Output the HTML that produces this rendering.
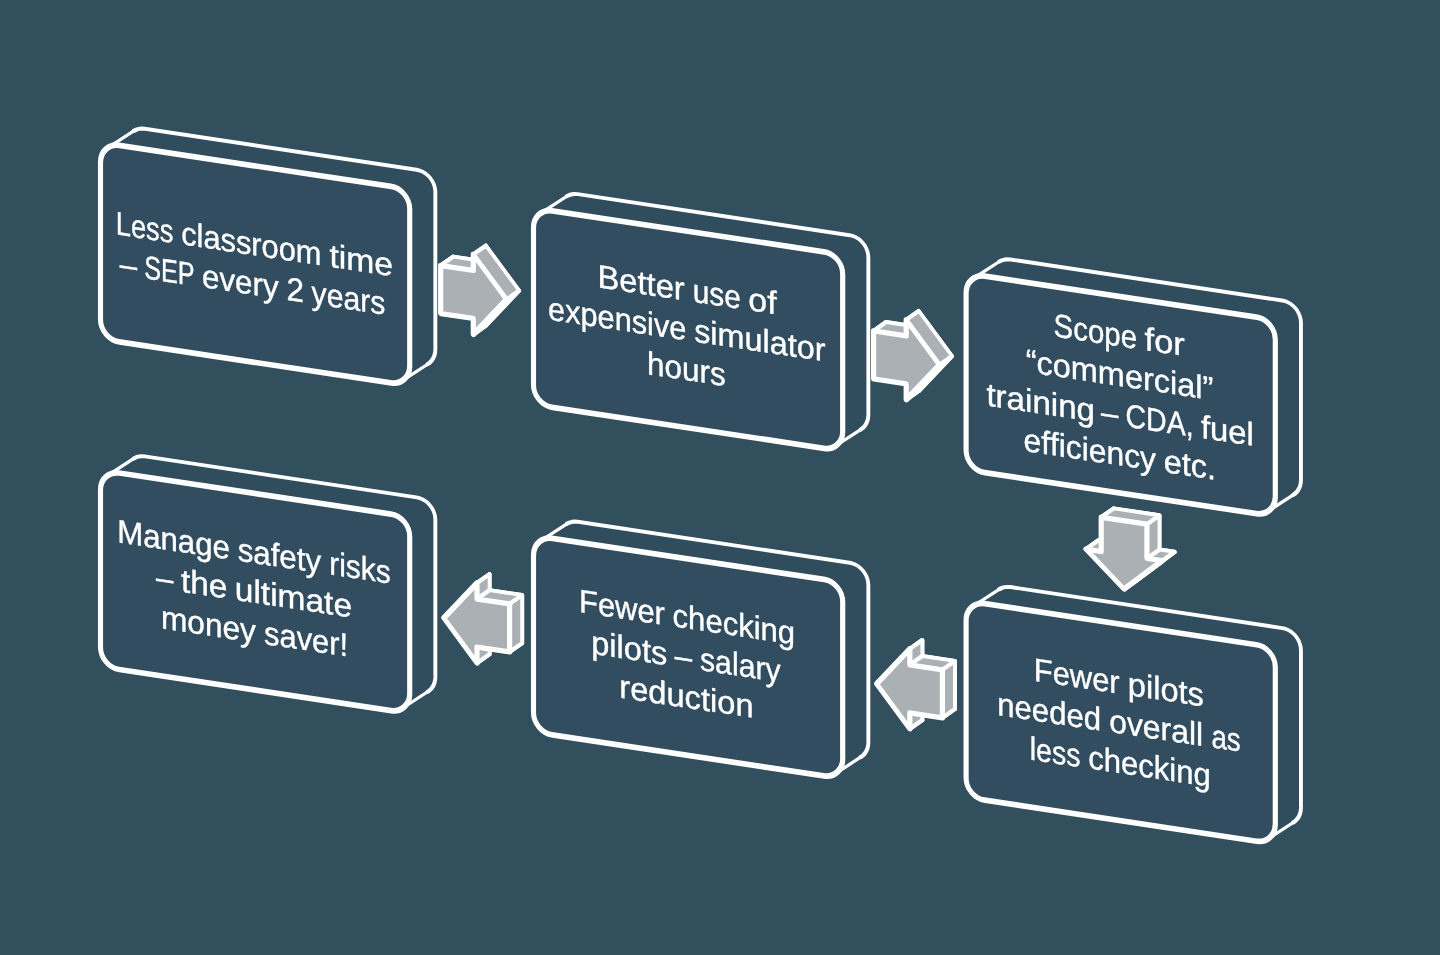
<!DOCTYPE html>
<html><head><meta charset="utf-8"><title>Diagram</title>
<style>
html,body{margin:0;padding:0;background:#324F5D;}
body{width:1440px;height:955px;overflow:hidden;}
svg{display:block;will-change:transform;}
text{font-family:"Liberation Sans",sans-serif;font-size:32.7px;fill:#fff;stroke:#fff;stroke-width:0.4px;stroke-linejoin:round;font-kerning:none;font-variant-ligatures:none;white-space:pre;}
</style></head><body>
<svg width="1440" height="955" viewBox="0 0 1440 955">
<rect width="1440" height="955" fill="#324F5D"/>
<g transform="matrix(1,0.151,0,1,0,0)">
<polygon points="100.50,147.00 100.73,143.93 101.42,140.94 102.54,138.10 104.07,135.48 105.98,133.14 108.21,131.14 133.86,110.62 136.36,109.01 139.07,107.84 141.92,107.12 144.85,106.88 416.65,106.88 419.58,107.12 422.43,107.84 425.14,109.01 427.64,110.62 429.87,112.62 431.78,114.96 433.31,117.58 434.43,120.42 435.12,123.41 435.35,126.48 435.35,283.78 435.12,286.84 434.43,289.83 433.31,292.68 431.78,295.30 429.87,297.64 427.64,299.63 401.99,320.16 399.49,321.76 396.78,322.94 393.93,323.66 391.00,323.90 119.20,323.90 116.27,323.66 113.42,322.94 110.71,321.76 108.21,320.16 105.98,318.16 104.07,315.82 102.54,313.20 101.42,310.36 100.73,307.37 100.50,304.30" fill="#304D5E"/>
<polyline points="133.86,110.62 136.36,109.01 139.07,107.84 141.92,107.12 144.85,106.88 416.65,106.88 419.58,107.12 422.43,107.84 425.14,109.01 427.64,110.62 429.87,112.62 431.78,114.96 433.31,117.58 434.43,120.42 435.12,123.41 435.35,126.48 435.35,283.78 435.12,286.84 434.43,289.83 433.31,292.68 431.78,295.30 429.87,297.64 427.64,299.63" fill="none" stroke="#FFFFFF" stroke-width="3.90" stroke-linejoin="round" stroke-linecap="round"/>
<line x1="108.21" y1="131.14" x2="133.86" y2="110.62" stroke="#FFFFFF" stroke-width="3.00" stroke-linecap="round"/>
<line x1="427.64" y1="299.63" x2="401.99" y2="320.16" stroke="#FFFFFF" stroke-width="3.00" stroke-linecap="round"/>
<rect transform="scale(0.905,1)" x="111.05" y="127.40" width="341.66" height="196.50" rx="20.66" ry="19.60" fill="#314D5F" stroke="#FFFFFF" stroke-width="5.70"/>
<text y="216.90"><tspan x="115.70" textLength="57.74" lengthAdjust="spacingAndGlyphs">Less</tspan> <tspan x="181.15" textLength="140.31" lengthAdjust="spacingAndGlyphs">classroom</tspan> <tspan x="329.38" textLength="63.65" lengthAdjust="spacingAndGlyphs">time</tspan></text>
<text y="256.60"><tspan x="119.64" textLength="17.33" lengthAdjust="spacingAndGlyphs">–</tspan> <tspan x="144.27" textLength="50.41" lengthAdjust="spacingAndGlyphs">SEP</tspan> <tspan x="202.04" textLength="76.55" lengthAdjust="spacingAndGlyphs">every</tspan> <tspan x="286.42" textLength="17.46" lengthAdjust="spacingAndGlyphs">2</tspan> <tspan x="311.56" textLength="73.77" lengthAdjust="spacingAndGlyphs">years</tspan></text>
<polygon points="533.50,147.00 533.73,143.93 534.42,140.94 535.54,138.10 537.07,135.48 538.98,133.14 541.21,131.14 566.86,110.62 569.36,109.01 572.07,107.84 574.92,107.12 577.85,106.88 849.65,106.88 852.58,107.12 855.43,107.84 858.14,109.01 860.64,110.62 862.87,112.62 864.78,114.96 866.31,117.58 867.43,120.42 868.12,123.41 868.35,126.48 868.35,283.78 868.12,286.84 867.43,289.83 866.31,292.68 864.78,295.30 862.87,297.64 860.64,299.63 834.99,320.16 832.49,321.76 829.78,322.94 826.93,323.66 824.00,323.90 552.20,323.90 549.27,323.66 546.42,322.94 543.71,321.76 541.21,320.16 538.98,318.16 537.07,315.82 535.54,313.20 534.42,310.36 533.73,307.37 533.50,304.30" fill="#304D5E"/>
<polyline points="566.86,110.62 569.36,109.01 572.07,107.84 574.92,107.12 577.85,106.88 849.65,106.88 852.58,107.12 855.43,107.84 858.14,109.01 860.64,110.62 862.87,112.62 864.78,114.96 866.31,117.58 867.43,120.42 868.12,123.41 868.35,126.48 868.35,283.78 868.12,286.84 867.43,289.83 866.31,292.68 864.78,295.30 862.87,297.64 860.64,299.63" fill="none" stroke="#FFFFFF" stroke-width="3.90" stroke-linejoin="round" stroke-linecap="round"/>
<line x1="541.21" y1="131.14" x2="566.86" y2="110.62" stroke="#FFFFFF" stroke-width="3.00" stroke-linecap="round"/>
<line x1="860.64" y1="299.63" x2="834.99" y2="320.16" stroke="#FFFFFF" stroke-width="3.00" stroke-linecap="round"/>
<rect transform="scale(0.905,1)" x="589.50" y="127.40" width="341.66" height="196.50" rx="20.66" ry="19.60" fill="#314D5F" stroke="#FFFFFF" stroke-width="5.70"/>
<text y="197.05"><tspan x="597.42" textLength="87.36" lengthAdjust="spacingAndGlyphs">Better</tspan> <tspan x="692.74" textLength="48.16" lengthAdjust="spacingAndGlyphs">use</tspan> <tspan x="748.34" textLength="28.27" lengthAdjust="spacingAndGlyphs">of</tspan></text>
<text y="236.75"><tspan x="548.11" textLength="138.21" lengthAdjust="spacingAndGlyphs">expensive</tspan> <tspan x="694.16" textLength="131.34" lengthAdjust="spacingAndGlyphs">simulator</tspan></text>
<text y="276.45"><tspan x="646.99" textLength="78.81" lengthAdjust="spacingAndGlyphs">hours</tspan></text>
<polygon points="966.10,147.00 966.33,143.93 967.02,140.94 968.14,138.10 969.67,135.48 971.58,133.14 973.81,131.14 999.46,110.62 1001.96,109.01 1004.67,107.84 1007.52,107.12 1010.45,106.88 1282.25,106.88 1285.18,107.12 1288.03,107.84 1290.74,109.01 1293.24,110.62 1295.47,112.62 1297.38,114.96 1298.91,117.58 1300.03,120.42 1300.72,123.41 1300.95,126.48 1300.95,283.78 1300.72,286.84 1300.03,289.83 1298.91,292.68 1297.38,295.30 1295.47,297.64 1293.24,299.63 1267.59,320.16 1265.09,321.76 1262.38,322.94 1259.53,323.66 1256.60,323.90 984.80,323.90 981.87,323.66 979.02,322.94 976.31,321.76 973.81,320.16 971.58,318.16 969.67,315.82 968.14,313.20 967.02,310.36 966.33,307.37 966.10,304.30" fill="#304D5E"/>
<polyline points="999.46,110.62 1001.96,109.01 1004.67,107.84 1007.52,107.12 1010.45,106.88 1282.25,106.88 1285.18,107.12 1288.03,107.84 1290.74,109.01 1293.24,110.62 1295.47,112.62 1297.38,114.96 1298.91,117.58 1300.03,120.42 1300.72,123.41 1300.95,126.48 1300.95,283.78 1300.72,286.84 1300.03,289.83 1298.91,292.68 1297.38,295.30 1295.47,297.64 1293.24,299.63" fill="none" stroke="#FFFFFF" stroke-width="3.90" stroke-linejoin="round" stroke-linecap="round"/>
<line x1="973.81" y1="131.14" x2="999.46" y2="110.62" stroke="#FFFFFF" stroke-width="3.00" stroke-linecap="round"/>
<line x1="1293.24" y1="299.63" x2="1267.59" y2="320.16" stroke="#FFFFFF" stroke-width="3.00" stroke-linecap="round"/>
<rect transform="scale(0.905,1)" x="1067.51" y="127.40" width="341.66" height="196.50" rx="20.66" ry="19.60" fill="#314D5F" stroke="#FFFFFF" stroke-width="5.70"/>
<text y="177.20"><tspan x="1053.63" textLength="83.42" lengthAdjust="spacingAndGlyphs">Scope</tspan> <tspan x="1144.60" textLength="40.26" lengthAdjust="spacingAndGlyphs">for</tspan></text>
<text y="216.90"><tspan x="1025.64" textLength="187.71" lengthAdjust="spacingAndGlyphs">“commercial”</tspan></text>
<text y="256.60"><tspan x="986.40" textLength="108.62" lengthAdjust="spacingAndGlyphs">training</tspan> <tspan x="1101.02" textLength="17.33" lengthAdjust="spacingAndGlyphs">–</tspan> <tspan x="1125.55" textLength="68.02" lengthAdjust="spacingAndGlyphs">CDA,</tspan> <tspan x="1200.90" textLength="52.91" lengthAdjust="spacingAndGlyphs">fuel</tspan></text>
<text y="296.30"><tspan x="1023.47" textLength="132.48" lengthAdjust="spacingAndGlyphs">efficiency</tspan> <tspan x="1163.70" textLength="52.22" lengthAdjust="spacingAndGlyphs">etc.</tspan></text>
<polygon points="100.50,474.60 100.73,471.53 101.42,468.54 102.54,465.70 104.07,463.08 105.98,460.74 108.21,458.74 133.86,438.22 136.36,436.61 139.07,435.44 141.92,434.72 144.85,434.48 416.65,434.48 419.58,434.72 422.43,435.44 425.14,436.61 427.64,438.22 429.87,440.22 431.78,442.56 433.31,445.18 434.43,448.02 435.12,451.01 435.35,454.08 435.35,611.38 435.12,614.44 434.43,617.43 433.31,620.28 431.78,622.90 429.87,625.24 427.64,627.23 401.99,647.76 399.49,649.36 396.78,650.54 393.93,651.26 391.00,651.50 119.20,651.50 116.27,651.26 113.42,650.54 110.71,649.36 108.21,647.76 105.98,645.76 104.07,643.42 102.54,640.80 101.42,637.96 100.73,634.97 100.50,631.90" fill="#304D5E"/>
<polyline points="133.86,438.22 136.36,436.61 139.07,435.44 141.92,434.72 144.85,434.48 416.65,434.48 419.58,434.72 422.43,435.44 425.14,436.61 427.64,438.22 429.87,440.22 431.78,442.56 433.31,445.18 434.43,448.02 435.12,451.01 435.35,454.08 435.35,611.38 435.12,614.44 434.43,617.43 433.31,620.28 431.78,622.90 429.87,625.24 427.64,627.23" fill="none" stroke="#FFFFFF" stroke-width="3.90" stroke-linejoin="round" stroke-linecap="round"/>
<line x1="108.21" y1="458.74" x2="133.86" y2="438.22" stroke="#FFFFFF" stroke-width="3.00" stroke-linecap="round"/>
<line x1="427.64" y1="627.23" x2="401.99" y2="647.76" stroke="#FFFFFF" stroke-width="3.00" stroke-linecap="round"/>
<rect transform="scale(0.905,1)" x="111.05" y="455.00" width="341.66" height="196.50" rx="20.66" ry="19.60" fill="#314D5F" stroke="#FFFFFF" stroke-width="5.70"/>
<text y="524.65"><tspan x="117.18" textLength="112.65" lengthAdjust="spacingAndGlyphs">Manage</tspan> <tspan x="237.68" textLength="83.41" lengthAdjust="spacingAndGlyphs">safety</tspan> <tspan x="329.16" textLength="61.62" lengthAdjust="spacingAndGlyphs">risks</tspan></text>
<text y="564.35"><tspan x="156.03" textLength="17.33" lengthAdjust="spacingAndGlyphs">–</tspan> <tspan x="180.94" textLength="46.49" lengthAdjust="spacingAndGlyphs">the</tspan> <tspan x="234.79" textLength="117.27" lengthAdjust="spacingAndGlyphs">ultimate</tspan></text>
<text y="604.05"><tspan x="160.93" textLength="95.00" lengthAdjust="spacingAndGlyphs">money</tspan> <tspan x="264.11" textLength="83.99" lengthAdjust="spacingAndGlyphs">saver!</tspan></text>
<polygon points="533.50,474.60 533.73,471.53 534.42,468.54 535.54,465.70 537.07,463.08 538.98,460.74 541.21,458.74 566.86,438.22 569.36,436.61 572.07,435.44 574.92,434.72 577.85,434.48 849.65,434.48 852.58,434.72 855.43,435.44 858.14,436.61 860.64,438.22 862.87,440.22 864.78,442.56 866.31,445.18 867.43,448.02 868.12,451.01 868.35,454.08 868.35,611.38 868.12,614.44 867.43,617.43 866.31,620.28 864.78,622.90 862.87,625.24 860.64,627.23 834.99,647.76 832.49,649.36 829.78,650.54 826.93,651.26 824.00,651.50 552.20,651.50 549.27,651.26 546.42,650.54 543.71,649.36 541.21,647.76 538.98,645.76 537.07,643.42 535.54,640.80 534.42,637.96 533.73,634.97 533.50,631.90" fill="#304D5E"/>
<polyline points="566.86,438.22 569.36,436.61 572.07,435.44 574.92,434.72 577.85,434.48 849.65,434.48 852.58,434.72 855.43,435.44 858.14,436.61 860.64,438.22 862.87,440.22 864.78,442.56 866.31,445.18 867.43,448.02 868.12,451.01 868.35,454.08 868.35,611.38 868.12,614.44 867.43,617.43 866.31,620.28 864.78,622.90 862.87,625.24 860.64,627.23" fill="none" stroke="#FFFFFF" stroke-width="3.90" stroke-linejoin="round" stroke-linecap="round"/>
<line x1="541.21" y1="458.74" x2="566.86" y2="438.22" stroke="#FFFFFF" stroke-width="3.00" stroke-linecap="round"/>
<line x1="860.64" y1="627.23" x2="834.99" y2="647.76" stroke="#FFFFFF" stroke-width="3.00" stroke-linecap="round"/>
<rect transform="scale(0.905,1)" x="589.50" y="455.00" width="341.66" height="196.50" rx="20.66" ry="19.60" fill="#314D5F" stroke="#FFFFFF" stroke-width="5.70"/>
<text y="524.65"><tspan x="579.00" textLength="85.93" lengthAdjust="spacingAndGlyphs">Fewer</tspan> <tspan x="672.61" textLength="122.55" lengthAdjust="spacingAndGlyphs">checking</tspan></text>
<text y="564.35"><tspan x="591.24" textLength="76.07" lengthAdjust="spacingAndGlyphs">pilots</tspan> <tspan x="674.82" textLength="17.33" lengthAdjust="spacingAndGlyphs">–</tspan> <tspan x="700.00" textLength="80.63" lengthAdjust="spacingAndGlyphs">salary</tspan></text>
<text y="604.05"><tspan x="619.31" textLength="134.24" lengthAdjust="spacingAndGlyphs">reduction</tspan></text>
<polygon points="966.10,474.60 966.33,471.53 967.02,468.54 968.14,465.70 969.67,463.08 971.58,460.74 973.81,458.74 999.46,438.22 1001.96,436.61 1004.67,435.44 1007.52,434.72 1010.45,434.48 1282.25,434.48 1285.18,434.72 1288.03,435.44 1290.74,436.61 1293.24,438.22 1295.47,440.22 1297.38,442.56 1298.91,445.18 1300.03,448.02 1300.72,451.01 1300.95,454.08 1300.95,611.38 1300.72,614.44 1300.03,617.43 1298.91,620.28 1297.38,622.90 1295.47,625.24 1293.24,627.23 1267.59,647.76 1265.09,649.36 1262.38,650.54 1259.53,651.26 1256.60,651.50 984.80,651.50 981.87,651.26 979.02,650.54 976.31,649.36 973.81,647.76 971.58,645.76 969.67,643.42 968.14,640.80 967.02,637.96 966.33,634.97 966.10,631.90" fill="#304D5E"/>
<polyline points="999.46,438.22 1001.96,436.61 1004.67,435.44 1007.52,434.72 1010.45,434.48 1282.25,434.48 1285.18,434.72 1288.03,435.44 1290.74,436.61 1293.24,438.22 1295.47,440.22 1297.38,442.56 1298.91,445.18 1300.03,448.02 1300.72,451.01 1300.95,454.08 1300.95,611.38 1300.72,614.44 1300.03,617.43 1298.91,620.28 1297.38,622.90 1295.47,625.24 1293.24,627.23" fill="none" stroke="#FFFFFF" stroke-width="3.90" stroke-linejoin="round" stroke-linecap="round"/>
<line x1="973.81" y1="458.74" x2="999.46" y2="438.22" stroke="#FFFFFF" stroke-width="3.00" stroke-linecap="round"/>
<line x1="1293.24" y1="627.23" x2="1267.59" y2="647.76" stroke="#FFFFFF" stroke-width="3.00" stroke-linecap="round"/>
<rect transform="scale(0.905,1)" x="1067.51" y="455.00" width="341.66" height="196.50" rx="20.66" ry="19.60" fill="#314D5F" stroke="#FFFFFF" stroke-width="5.70"/>
<text y="524.65"><tspan x="1033.74" textLength="85.93" lengthAdjust="spacingAndGlyphs">Fewer</tspan> <tspan x="1127.78" textLength="76.07" lengthAdjust="spacingAndGlyphs">pilots</tspan></text>
<text y="564.35"><tspan x="997.22" textLength="103.97" lengthAdjust="spacingAndGlyphs">needed</tspan> <tspan x="1109.19" textLength="93.98" lengthAdjust="spacingAndGlyphs">overall</tspan> <tspan x="1211.40" textLength="29.30" lengthAdjust="spacingAndGlyphs">as</tspan></text>
<text y="604.05"><tspan x="1029.75" textLength="50.81" lengthAdjust="spacingAndGlyphs">less</tspan> <tspan x="1088.22" textLength="122.55" lengthAdjust="spacingAndGlyphs">checking</tspan></text>
<polygon points="453.30,188.20 485.90,188.20 485.90,172.20 519.10,212.20 485.90,252.20 485.90,236.20 453.30,236.20" fill="#ABB0B4" stroke="#FFFFFF" stroke-width="3.90" stroke-linejoin="round"/>
<polygon points="440.70,247.00 440.70,199.00 453.30,188.20 453.30,236.20" fill="#ABB0B4" stroke="#FFFFFF" stroke-width="3.90" stroke-linejoin="round"/>
<polygon points="473.30,247.00 440.70,247.00 453.30,236.20 485.90,236.20" fill="#ABB0B4" stroke="#FFFFFF" stroke-width="3.90" stroke-linejoin="round"/>
<polygon points="473.30,199.00 473.30,183.00 485.90,172.20 485.90,188.20" fill="#ABB0B4" stroke="#FFFFFF" stroke-width="3.90" stroke-linejoin="round"/>
<polygon points="473.30,263.00 473.30,247.00 485.90,236.20 485.90,252.20" fill="#ABB0B4" stroke="#FFFFFF" stroke-width="3.90" stroke-linejoin="round"/>
<polygon points="506.50,223.00 473.30,263.00 485.90,252.20 519.10,212.20" fill="#ABB0B4" stroke="#FFFFFF" stroke-width="3.90" stroke-linejoin="round"/>
<polygon points="440.70,199.00 473.30,199.00 485.90,188.20 453.30,188.20" fill="#ABB0B4" stroke="#FFFFFF" stroke-width="3.90" stroke-linejoin="round"/>
<polygon points="473.30,183.00 506.50,223.00 519.10,212.20 485.90,172.20" fill="#ABB0B4" stroke="#FFFFFF" stroke-width="3.90" stroke-linejoin="round"/>
<polygon points="440.70,199.00 473.30,199.00 473.30,183.00 506.50,223.00 473.30,263.00 473.30,247.00 440.70,247.00" fill="#ABB0B4" stroke="#FFFFFF" stroke-width="5.20" stroke-linejoin="round"/>
<polygon points="886.20,188.20 918.80,188.20 918.80,172.20 952.00,212.20 918.80,252.20 918.80,236.20 886.20,236.20" fill="#ABB0B4" stroke="#FFFFFF" stroke-width="3.90" stroke-linejoin="round"/>
<polygon points="873.60,247.00 873.60,199.00 886.20,188.20 886.20,236.20" fill="#ABB0B4" stroke="#FFFFFF" stroke-width="3.90" stroke-linejoin="round"/>
<polygon points="906.20,247.00 873.60,247.00 886.20,236.20 918.80,236.20" fill="#ABB0B4" stroke="#FFFFFF" stroke-width="3.90" stroke-linejoin="round"/>
<polygon points="906.20,199.00 906.20,183.00 918.80,172.20 918.80,188.20" fill="#ABB0B4" stroke="#FFFFFF" stroke-width="3.90" stroke-linejoin="round"/>
<polygon points="906.20,263.00 906.20,247.00 918.80,236.20 918.80,252.20" fill="#ABB0B4" stroke="#FFFFFF" stroke-width="3.90" stroke-linejoin="round"/>
<polygon points="939.40,223.00 906.20,263.00 918.80,252.20 952.00,212.20" fill="#ABB0B4" stroke="#FFFFFF" stroke-width="3.90" stroke-linejoin="round"/>
<polygon points="873.60,199.00 906.20,199.00 918.80,188.20 886.20,188.20" fill="#ABB0B4" stroke="#FFFFFF" stroke-width="3.90" stroke-linejoin="round"/>
<polygon points="906.20,183.00 939.40,223.00 952.00,212.20 918.80,172.20" fill="#ABB0B4" stroke="#FFFFFF" stroke-width="3.90" stroke-linejoin="round"/>
<polygon points="873.60,199.00 906.20,199.00 906.20,183.00 939.40,223.00 906.20,263.00 906.20,247.00 873.60,247.00" fill="#ABB0B4" stroke="#FFFFFF" stroke-width="5.20" stroke-linejoin="round"/>
<polygon points="1113.80,340.20 1159.50,340.20 1159.50,374.40 1174.75,374.40 1136.65,408.60 1098.55,374.40 1113.80,374.40" fill="#ABB0B4" stroke="#FFFFFF" stroke-width="3.90" stroke-linejoin="round"/>
<polygon points="1124.05,419.40 1085.95,385.20 1098.55,374.40 1136.65,408.60" fill="#ABB0B4" stroke="#FFFFFF" stroke-width="3.90" stroke-linejoin="round"/>
<polygon points="1101.20,385.20 1101.20,351.00 1113.80,340.20 1113.80,374.40" fill="#ABB0B4" stroke="#FFFFFF" stroke-width="3.90" stroke-linejoin="round"/>
<polygon points="1162.15,385.20 1124.05,419.40 1136.65,408.60 1174.75,374.40" fill="#ABB0B4" stroke="#FFFFFF" stroke-width="3.90" stroke-linejoin="round"/>
<polygon points="1146.90,385.20 1162.15,385.20 1174.75,374.40 1159.50,374.40" fill="#ABB0B4" stroke="#FFFFFF" stroke-width="3.90" stroke-linejoin="round"/>
<polygon points="1085.95,385.20 1101.20,385.20 1113.80,374.40 1098.55,374.40" fill="#ABB0B4" stroke="#FFFFFF" stroke-width="3.90" stroke-linejoin="round"/>
<polygon points="1146.90,351.00 1146.90,385.20 1159.50,374.40 1159.50,340.20" fill="#ABB0B4" stroke="#FFFFFF" stroke-width="3.90" stroke-linejoin="round"/>
<polygon points="1101.20,351.00 1146.90,351.00 1159.50,340.20 1113.80,340.20" fill="#ABB0B4" stroke="#FFFFFF" stroke-width="3.90" stroke-linejoin="round"/>
<polygon points="1101.20,351.00 1146.90,351.00 1146.90,385.20 1162.15,385.20 1124.05,419.40 1085.95,385.20 1101.20,385.20" fill="#ABB0B4" stroke="#FFFFFF" stroke-width="5.20" stroke-linejoin="round"/>
<polygon points="955.00,564.70 922.40,564.70 922.40,580.70 889.20,540.70 922.40,500.70 922.40,516.70 955.00,516.70" fill="#ABB0B4" stroke="#FFFFFF" stroke-width="3.90" stroke-linejoin="round"/>
<polygon points="909.80,591.50 876.60,551.50 889.20,540.70 922.40,580.70" fill="#ABB0B4" stroke="#FFFFFF" stroke-width="3.90" stroke-linejoin="round"/>
<polygon points="942.40,575.50 909.80,575.50 922.40,564.70 955.00,564.70" fill="#ABB0B4" stroke="#FFFFFF" stroke-width="3.90" stroke-linejoin="round"/>
<polygon points="876.60,551.50 909.80,511.50 922.40,500.70 889.20,540.70" fill="#ABB0B4" stroke="#FFFFFF" stroke-width="3.90" stroke-linejoin="round"/>
<polygon points="909.80,575.50 909.80,591.50 922.40,580.70 922.40,564.70" fill="#ABB0B4" stroke="#FFFFFF" stroke-width="3.90" stroke-linejoin="round"/>
<polygon points="909.80,511.50 909.80,527.50 922.40,516.70 922.40,500.70" fill="#ABB0B4" stroke="#FFFFFF" stroke-width="3.90" stroke-linejoin="round"/>
<polygon points="909.80,527.50 942.40,527.50 955.00,516.70 922.40,516.70" fill="#ABB0B4" stroke="#FFFFFF" stroke-width="3.90" stroke-linejoin="round"/>
<polygon points="942.40,527.50 942.40,575.50 955.00,564.70 955.00,516.70" fill="#ABB0B4" stroke="#FFFFFF" stroke-width="3.90" stroke-linejoin="round"/>
<polygon points="942.40,575.50 909.80,575.50 909.80,591.50 876.60,551.50 909.80,511.50 909.80,527.50 942.40,527.50" fill="#ABB0B4" stroke="#FFFFFF" stroke-width="5.20" stroke-linejoin="round"/>
<polygon points="522.20,564.20 489.60,564.20 489.60,580.20 456.40,540.20 489.60,500.20 489.60,516.20 522.20,516.20" fill="#ABB0B4" stroke="#FFFFFF" stroke-width="3.90" stroke-linejoin="round"/>
<polygon points="477.00,591.00 443.80,551.00 456.40,540.20 489.60,580.20" fill="#ABB0B4" stroke="#FFFFFF" stroke-width="3.90" stroke-linejoin="round"/>
<polygon points="509.60,575.00 477.00,575.00 489.60,564.20 522.20,564.20" fill="#ABB0B4" stroke="#FFFFFF" stroke-width="3.90" stroke-linejoin="round"/>
<polygon points="443.80,551.00 477.00,511.00 489.60,500.20 456.40,540.20" fill="#ABB0B4" stroke="#FFFFFF" stroke-width="3.90" stroke-linejoin="round"/>
<polygon points="477.00,575.00 477.00,591.00 489.60,580.20 489.60,564.20" fill="#ABB0B4" stroke="#FFFFFF" stroke-width="3.90" stroke-linejoin="round"/>
<polygon points="477.00,511.00 477.00,527.00 489.60,516.20 489.60,500.20" fill="#ABB0B4" stroke="#FFFFFF" stroke-width="3.90" stroke-linejoin="round"/>
<polygon points="477.00,527.00 509.60,527.00 522.20,516.20 489.60,516.20" fill="#ABB0B4" stroke="#FFFFFF" stroke-width="3.90" stroke-linejoin="round"/>
<polygon points="509.60,527.00 509.60,575.00 522.20,564.20 522.20,516.20" fill="#ABB0B4" stroke="#FFFFFF" stroke-width="3.90" stroke-linejoin="round"/>
<polygon points="509.60,575.00 477.00,575.00 477.00,591.00 443.80,551.00 477.00,511.00 477.00,527.00 509.60,527.00" fill="#ABB0B4" stroke="#FFFFFF" stroke-width="5.20" stroke-linejoin="round"/>
</g>
</svg>
</body></html>
